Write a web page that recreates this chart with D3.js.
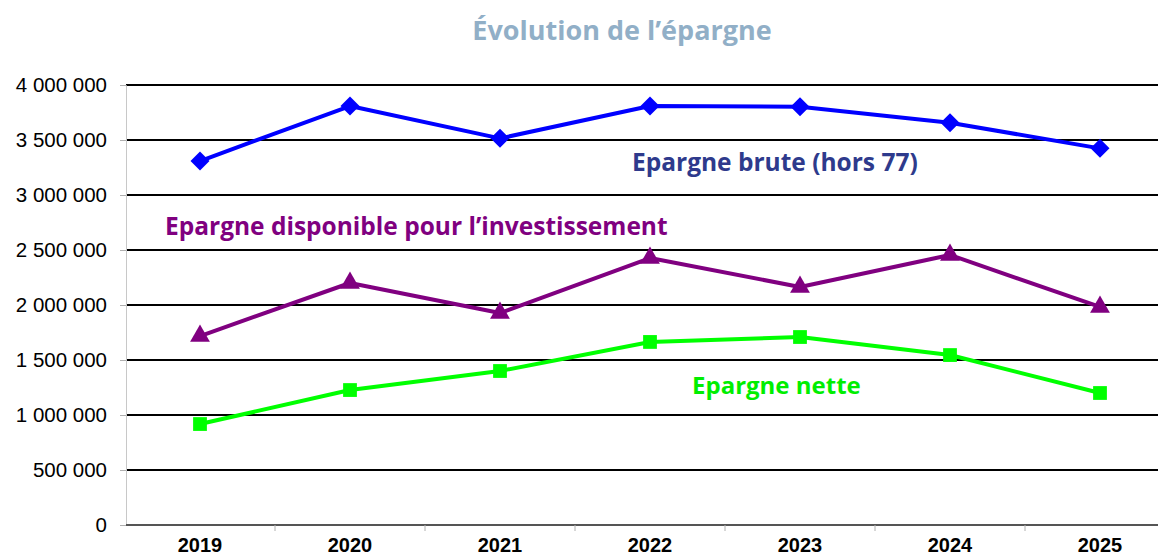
<!DOCTYPE html>
<html>
<head>
<meta charset="utf-8">
<script src="https://cdn.jsdelivr.net/npm/d3@7"></script>
<style>
  body { margin: 0; background: #fff; }
  svg { display: block; }
  .ylab { font-family: "Liberation Sans", Arial, sans-serif; font-size: 20.5px; fill: #000; }
  .xlab { font-family: "Liberation Sans", Arial, sans-serif; font-size: 20px; font-weight: bold; fill: #000; }
  .note { font-family: "Open Sans", "Lato", sans-serif; font-weight: bold; }
</style>
</head>
<body>
<svg id="chart" width="1158" height="558"></svg>
<script>
// data
var years = ["2019", "2020", "2021", "2022", "2023", "2024", "2025"];
var brute = [3309000, 3809000, 3515000, 3809000, 3803000, 3657000, 3424000];
var disponible = [1718000, 2200000, 1927000, 2427000, 2164000, 2455000, 1982000];
var nette = [918000, 1227000, 1400000, 1664000, 1709000, 1545000, 1200000];
var yTicks = [0, 500000, 1000000, 1500000, 2000000, 2500000, 3000000, 3500000, 4000000];

var svg = d3.select("#chart");

var x = d3.scaleBand().domain(years).range([125, 1175]);
var y = d3.scaleLinear().domain([0, 4000000]).range([525, 85]);

function fmt(v) {
  return d3.format(",")(v).replace(/,/g, " ");
}

// title
svg.append("text")
   .attr("x", 622).attr("y", 40)
   .attr("text-anchor", "middle")
   .attr("class", "note")
   .style("font-size", "27px")
   .style("fill", "#91afc7")
   .text("Évolution de l’épargne");

// horizontal gridlines
svg.append("g").selectAll("line")
   .data(yTicks.filter(function(d) { return d > 0; }))
   .join("line")
   .attr("x1", 126).attr("x2", 1175)
   .attr("y1", function(d) { return y(d); })
   .attr("y2", function(d) { return y(d); })
   .attr("stroke", "#000")
   .attr("stroke-width", 2);

// y axis
var yAxis = svg.append("g")
   .attr("transform", "translate(126,0)")
   .call(d3.axisLeft(y).tickValues(yTicks).tickFormat(fmt).tickSize(6).tickPadding(13));
yAxis.select(".domain").attr("stroke", "#c8c8c8");
yAxis.selectAll(".tick line").attr("stroke", "#b0b0b0");
yAxis.selectAll("text").attr("class", "ylab").attr("font-size", null).attr("font-family", null);

// zero line + category ticks
svg.append("line")
   .attr("x1", 126).attr("x2", 1175)
   .attr("y1", y(0)).attr("y2", y(0))
   .attr("stroke", "#555").attr("stroke-width", 2);

svg.append("g").selectAll("line")
   .data(years.slice(1))
   .join("line")
   .attr("x1", function(d) { return x(d); })
   .attr("x2", function(d) { return x(d); })
   .attr("y1", y(0)).attr("y2", y(0) + 6)
   .attr("stroke", "#b0b0b0");

svg.append("g").selectAll("text")
   .data(years)
   .join("text")
   .attr("class", "xlab")
   .attr("x", function(d) { return x(d) + x.bandwidth() / 2; })
   .attr("y", 552)
   .attr("text-anchor", "middle")
   .text(function(d) { return d; });

var cx = function(d, i) { return x(years[i]) + x.bandwidth() / 2; };

var series = [
  { values: brute, color: "#0000ff", symbol: d3.symbolDiamond2, size: 230 },
  { values: disponible, color: "#800080", symbol: d3.symbolTriangle, size: 170 },
  { values: nette, color: "#00ff00", symbol: d3.symbolSquare, size: 190 }
];

series.forEach(function(s) {
  var line = d3.line()
    .x(cx)
    .y(function(d) { return y(d); });
  svg.append("path")
     .datum(s.values)
     .attr("fill", "none")
     .attr("stroke", s.color)
     .attr("stroke-width", 4)
     .attr("stroke-linejoin", "round")
     .attr("d", line);
  svg.append("g").selectAll("path")
     .data(s.values)
     .join("path")
     .attr("transform", function(d, i) { return "translate(" + cx(d, i) + "," + y(d) + ")"; })
     .attr("d", d3.symbol().type(s.symbol).size(s.size))
     .attr("fill", s.color);
});

// series labels
svg.append("text").attr("class", "note")
   .attr("x", 632).attr("y", 171)
   .style("font-size", "24.5px").style("fill", "#2e3a8c")
   .text("Epargne brute (hors 77)");

svg.append("text").attr("class", "note")
   .attr("x", 165).attr("y", 235)
   .style("font-size", "24.5px").style("fill", "#800080")
   .text("Epargne disponible pour l’investissement");

svg.append("text").attr("class", "note")
   .attr("x", 692).attr("y", 394)
   .style("font-size", "24px").style("fill", "#00ee00")
   .text("Epargne nette");
</script>
</body>
</html>
